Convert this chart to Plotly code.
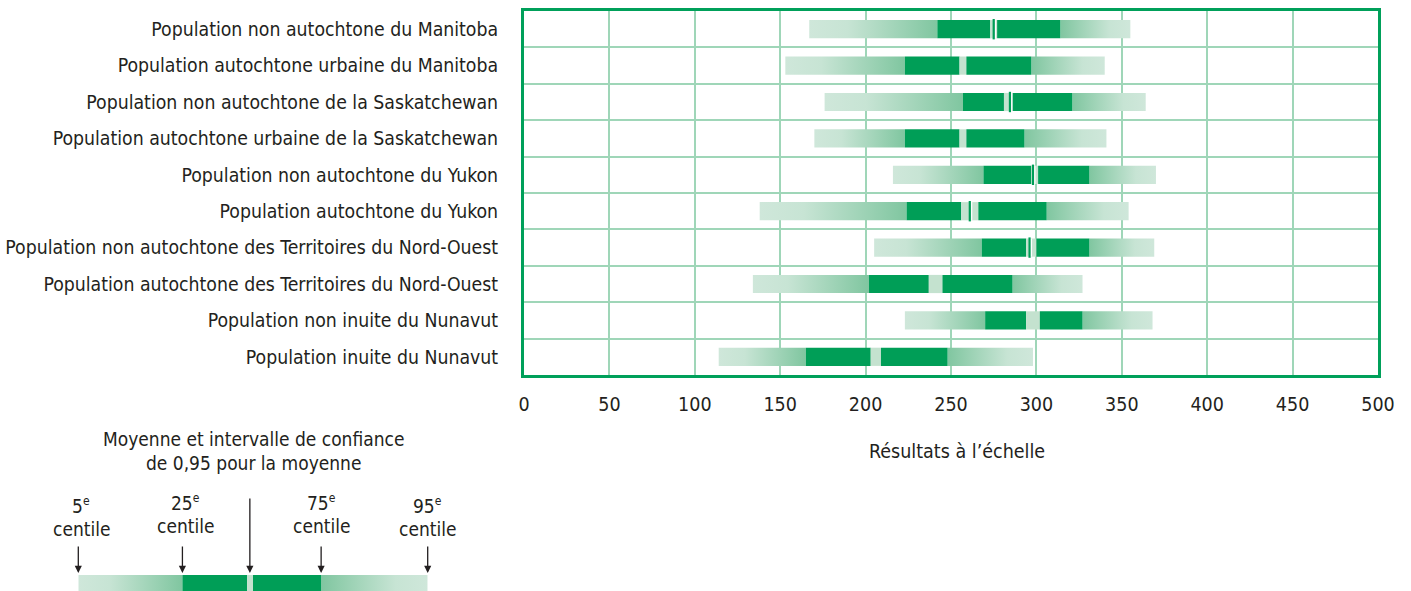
import plotly.graph_objects as go

# ---------------- data ----------------
categories = [
    "Population non autochtone du Manitoba",
    "Population autochtone urbaine du Manitoba",
    "Population non autochtone de la Saskatchewan",
    "Population autochtone urbaine de la Saskatchewan",
    "Population non autochtone du Yukon",
    "Population autochtone du Yukon",
    "Population non autochtone des Territoires du Nord-Ouest",
    "Population autochtone des Territoires du Nord-Ouest",
    "Population non inuite du Nunavut",
    "Population inuite du Nunavut",
]
p5 = [167, 153, 176, 170, 216, 138, 205, 134, 223, 114]
p25 = [242, 223, 257, 223, 269, 224, 268, 202, 270, 165]
ci_lo = [273, 255, 281, 255, 297, 256, 294, 237, 294, 203]
ci_hi = [277, 259, 286, 259, 301, 266, 300, 245, 302, 209]
p75 = [314, 297, 321, 293, 331, 306, 331, 286, 327, 248]
p95 = [355, 340, 364, 341, 370, 354, 369, 327, 368, 298]
mean_mark = [275, None, 284.5, None, 298, 261, 296, None, None, None]

x_ticks = [0, 50, 100, 150, 200, 250, 300, 350, 400, 450, 500]
x_title = "Résultats à l’échelle"

# legend key (schematic, 0-100 scale)
key_p5, key_p25, key_ci_lo, key_ci_hi, key_p75, key_p95 = 0, 29.8, 48.3, 50.0, 69.5, 100
key_mean = 49.1
key_title = ["Moyenne et intervalle de confiance", "de 0,95 pour la moyenne"]
key_labels = [("5", key_p5), ("25", key_p25), ("75", key_p75), ("95", key_p95)]

# ---------------- style ----------------
FONT = "DejaVu Sans Condensed, Liberation Sans Narrow, sans-serif"
TXT = "#231f20"
DARK = "#009e57"
CI = "#c4e2cf"
LIGHT = "#cfe7da"
MID = "#80c6a0"
GRID = "#9fd6b8"
BORDER = "#00a05a"
W, H = 1411, 591
PX0, PX1, PY0, PY1 = 524, 1378, 11, 375

fig = go.Figure()


def rect(x0, x1, yc, h):
    return [x0, x1, x1, x0, x0], [yc - h, yc - h, yc + h, yc + h, yc - h]


def draw_row(a5, a25, lo, hi, a75, a95, yc, h, xa, ya):
    xs, ys = rect(a5, a25, yc, h)
    fig.add_trace(go.Scatter(x=xs, y=ys, mode="none", fill="toself", xaxis=xa, yaxis=ya,
                             fillgradient=dict(type="horizontal", start=a5, stop=a25,
                                               colorscale=[[0, LIGHT], [0.3, "#c7e4d4"], [1, MID]]),
                             hoverinfo="skip", showlegend=False))
    xs, ys = rect(a75, a95, yc, h)
    fig.add_trace(go.Scatter(x=xs, y=ys, mode="none", fill="toself", xaxis=xa, yaxis=ya,
                             fillgradient=dict(type="horizontal", start=a75, stop=a95,
                                               colorscale=[[0, MID], [0.7, "#c7e4d4"], [1, LIGHT]]),
                             hoverinfo="skip", showlegend=False))
    for x0, x1, col in [(a25, lo, DARK), (lo, hi, CI), (hi, a75, DARK)]:
        xs, ys = rect(x0, x1, yc, h)
        fig.add_trace(go.Scatter(x=xs, y=ys, mode="none", fill="toself", fillcolor=col,
                                 xaxis=xa, yaxis=ya, hoverinfo="skip", showlegend=False))


for i in range(len(categories)):
    draw_row(p5[i], p25[i], ci_lo[i], ci_hi[i], p75[i], p95[i], i, 0.25, "x", "y")

# mean markers
mx, my, wx, wy = [], [], [], []
for i, m in enumerate(mean_mark):
    if m is None:
        continue
    mx += [m, m, None]
    my += [i - 0.28, i + 0.28, None]
    wx += [m + 1.1, m + 1.1, None]
    wy += [i - 0.25, i + 0.25, None]
fig.add_trace(go.Scatter(x=mx, y=my, mode="lines", line=dict(color=DARK, width=2.2),
                         hoverinfo="skip", showlegend=False))
fig.add_trace(go.Scatter(x=wx, y=wy, mode="lines", line=dict(color="white", width=1.2),
                         hoverinfo="skip", showlegend=False))

# legend key bar
draw_row(key_p5, key_p25, key_ci_lo, key_ci_hi, key_p75, key_p95, 154, 9, "x2", "y2")

fig.update_layout(
    width=W, height=H,
    margin=dict(l=0, r=0, t=0, b=0, autoexpand=False),
    paper_bgcolor="white", plot_bgcolor="white",
    font=dict(family=FONT, color=TXT, size=19.3),
    showlegend=False,
    xaxis=dict(domain=[PX0 / W, PX1 / W], range=[0, 500], tickvals=x_ticks,
               showgrid=True, gridcolor=GRID, gridwidth=2, zeroline=False,
               showline=True, mirror=True, linecolor=BORDER, linewidth=2.5,
               ticks="", ticklabelstandoff=10, tickfont=dict(size=19.5, color=TXT),
               automargin=False, anchor="y"),
    yaxis=dict(domain=[1 - PY1 / H, 1 - PY0 / H], range=[9.5, -0.5],
               tickvals=list(range(len(categories))), ticktext=categories,
               showgrid=False, zeroline=False,
               minor=dict(tickvals=[k + 0.5 for k in range(len(categories) - 1)],
                          showgrid=True, gridcolor=GRID, gridwidth=2, ticks=""),
               showline=True, mirror=True, linecolor=BORDER, linewidth=3,
               ticks="", ticklabelstandoff=19, tickfont=dict(size=19.3, color=TXT),
               automargin=False, anchor="x"),
    xaxis2=dict(domain=[78.3 / W, 427.7 / W], range=[0, 100], visible=False, anchor="y2",
                automargin=False),
    yaxis2=dict(domain=[0, 1 - 430 / H], range=[161, 0], visible=False, anchor="x2",
                automargin=False),
)

ann = []
ann.append(dict(text=x_title, x=957 / W, y=1 - 451 / H, xref="paper", yref="paper",
                xanchor="center", yanchor="middle",
                showarrow=False, font=dict(size=19.5, color=TXT)))
for k, t in enumerate(key_title):
    ann.append(dict(text=t, x=50, y=9 + 24 * k, xref="x2", yref="y2", showarrow=False,
                    xanchor="center", yanchor="middle", font=dict(size=19, color=TXT)))
for lab, xv in key_labels:
    hi_ = lab in ("25", "75")
    dy = -3 if hi_ else 0
    xshift = 3 if lab in ("25", "5") else 0
    ann.append(dict(text=lab + "<sup><span style='font-size:12px'>e</span></sup>", x=xv, y=75 + dy,
                    xref="x2", yref="y2", xanchor="center", yanchor="middle",
                    showarrow=False, xshift=xshift, font=dict(size=19, color=TXT)))
    ann.append(dict(text="centile", x=xv, y=99 + dy, xref="x2", yref="y2",
                    xanchor="center", yanchor="middle",
                    showarrow=False, xshift=xshift, font=dict(size=19, color=TXT)))
for xv, length in [(key_p5, 28), (key_p25, 28), (key_mean, 76), (key_p75, 28), (key_p95, 28)]:
    ann.append(dict(text="", x=xv, y=143, xref="x2", yref="y2", showarrow=True,
                    ax=0, ay=-length, arrowhead=2, arrowsize=1.1, arrowwidth=1.3,
                    arrowcolor="#231f20"))
fig.update_layout(annotations=ann)

fig.write_html("out.html", config={"displayModeBar": False},
               post_script="document.body.style.margin='0';document.body.style.padding='0';")
